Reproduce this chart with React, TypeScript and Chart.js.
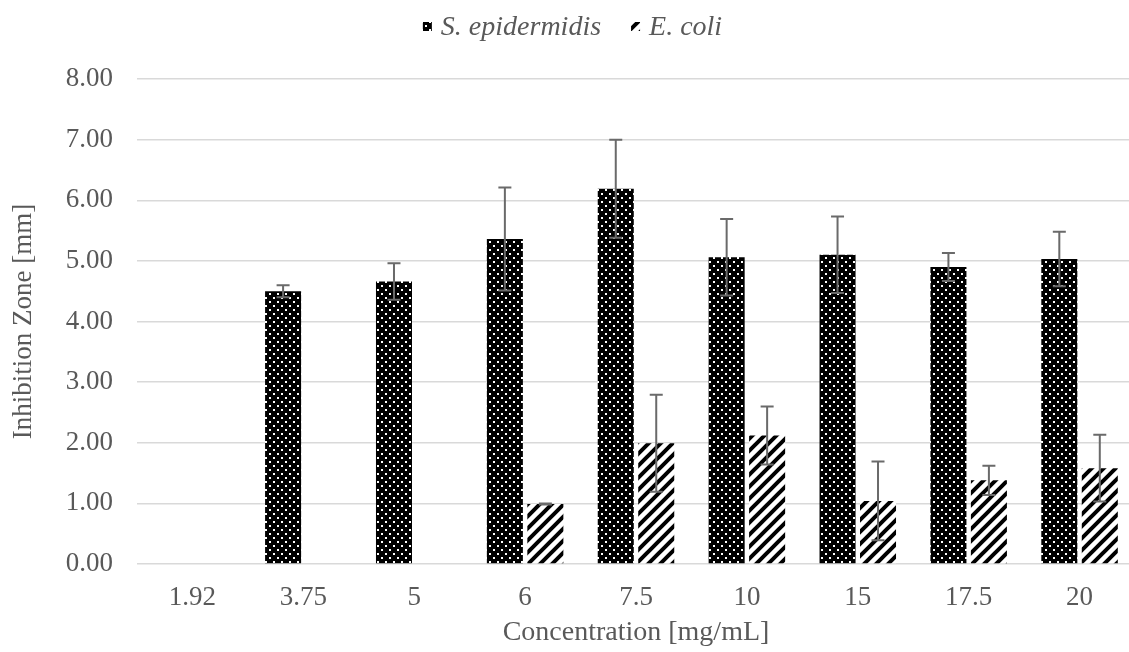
import React, { useEffect, useRef } from "react";
import { Chart, registerables } from "chart.js";

Chart.register(...registerables);

const categories = ["1.92", "3.75", "5", "6", "7.5", "10", "15", "17.5", "20"];
const sEpidermidis = [0, 4.5, 4.66, 5.36, 6.19, 5.06, 5.1, 4.9, 5.03];
const sEpidermidisErr: (number | null)[] = [null, 0.1, 0.3, 0.85, 0.81, 0.63, 0.63, 0.23, 0.45];
const eColi = [0, 0, 0, 0.99, 1.99, 2.12, 1.04, 1.38, 1.58];
const eColiErr: (number | null)[] = [null, null, null, 0.01, 0.8, 0.48, 0.65, 0.24, 0.55];
const seriesLabels = ["S. epidermidis", "E. coli"];
const yMin = 0;
const yMax = 8;
const yStep = 1;
const xTitle = "Concentration [mg/mL]";
const yTitle = "Inhibition Zone [mm]";

const TEXT = "#595959";
const FONT = '"Liberation Serif", "Times New Roman", serif';

function dotPattern(): CanvasPattern | string {
  const c = document.createElement("canvas");
  c.width = 8;
  c.height = 8;
  const g = c.getContext("2d");
  if (!g) return "#000";
  g.fillStyle = "#000";
  g.fillRect(0, 0, 8, 8);
  g.fillStyle = "#fff";
  g.fillRect(1, 1, 2, 2);
  g.fillRect(5, 5, 2, 2);
  const main = document.createElement("canvas").getContext("2d");
  return (main && main.createPattern(c, "repeat")) || "#000";
}

function stripePattern(): CanvasPattern | string {
  const c = document.createElement("canvas");
  c.width = 12;
  c.height = 12;
  const g = c.getContext("2d");
  if (!g) return "#000";
  g.fillStyle = "#fff";
  g.fillRect(0, 0, 12, 12);
  g.strokeStyle = "#000";
  g.lineWidth = 4;
  g.beginPath();
  g.moveTo(-3, 15);
  g.lineTo(15, -3);
  g.moveTo(-3, 3);
  g.lineTo(3, -3);
  g.moveTo(9, 15);
  g.lineTo(15, 9);
  g.stroke();
  const main = document.createElement("canvas").getContext("2d");
  return (main && main.createPattern(c, "repeat")) || "#000";
}

const errorBarPlugin = {
  id: "errorBars",
  afterDatasetsDraw(chart: any) {
    const ctx = chart.ctx;
    const yScale = chart.scales.y;
    ctx.save();
    ctx.strokeStyle = "#6a6a6a";
    ctx.lineWidth = 2;
    chart.data.datasets.forEach((ds: any, i: number) => {
      const meta = chart.getDatasetMeta(i);
      const errs: (number | null)[] = ds.errors || [];
      meta.data.forEach((el: any, j: number) => {
        const e = errs[j];
        const v = ds.data[j];
        if (e === null || e === undefined || v === null || v === undefined) return;
        const x = el.x;
        const yt = yScale.getPixelForValue(v + e);
        const yb = yScale.getPixelForValue(v - e);
        const half = 6.5;
        ctx.beginPath();
        ctx.moveTo(x, yt);
        ctx.lineTo(x, yb);
        ctx.moveTo(x - half, yt);
        ctx.lineTo(x + half, yt);
        ctx.moveTo(x - half, yb);
        ctx.lineTo(x + half, yb);
        ctx.stroke();
      });
    });
    ctx.restore();
  },
};

const legendPlugin = {
  id: "customLegend",
  afterDraw(chart: any) {
    const ctx = chart.ctx;
    ctx.save();
    ctx.font = "italic 28px " + FONT;
    ctx.textBaseline = "alphabetic";
    ctx.textAlign = "left";
    const box = 9;
    const gapBoxText = 9;
    const gapItems = 30;
    const items = chart.data.datasets.map((ds: any) => ({
      label: ds.label,
      fill: ds.backgroundColor,
      w: ctx.measureText(ds.label).width,
    }));
    let total = 0;
    items.forEach((it: any, k: number) => {
      total += box + gapBoxText + it.w + (k < items.length - 1 ? gapItems : 0);
    });
    let x = chart.width / 2 + 5 - total / 2;
    const baseline = 35;
    items.forEach((it: any) => {
      ctx.fillStyle = it.fill;
      ctx.fillRect(x, 22, box, box);
      x += box + gapBoxText;
      ctx.fillStyle = TEXT;
      ctx.fillText(it.label, x, baseline);
      x += it.w + gapItems;
    });
    ctx.restore();
  },
};

export default function App() {
  const ref = useRef<HTMLCanvasElement | null>(null);

  useEffect(() => {
    if (!ref.current) return;
    Chart.defaults.font.family = FONT;
    const chart = new Chart(ref.current, {
      type: "bar",
      data: {
        labels: categories,
        datasets: [
          {
            label: seriesLabels[0],
            data: sEpidermidis,
            errors: sEpidermidisErr,
            backgroundColor: dotPattern(),
            borderWidth: 0,
            categoryPercentage: 0.73,
            barPercentage: 0.89,
          } as any,
          {
            label: seriesLabels[1],
            data: eColi,
            errors: eColiErr,
            backgroundColor: stripePattern(),
            borderWidth: 0,
            categoryPercentage: 0.73,
            barPercentage: 0.89,
          } as any,
        ],
      },
      options: {
        responsive: true,
        maintainAspectRatio: false,
        animation: false,
        layout: { padding: { top: 79, left: 0, right: 0, bottom: 0 } },
        plugins: {
          legend: { display: false },
          tooltip: { enabled: false },
        },
        scales: {
          x: {
            grid: { display: false },
            border: { display: false },
            ticks: { color: TEXT, font: { size: 27 }, padding: 10 },
            title: {
              display: true,
              text: xTitle,
              color: TEXT,
              font: { size: 28 },
              padding: { top: 0, bottom: 3 },
            },
            afterFit: (s: any) => {
              s.height = 88;
            },
          },
          y: {
            min: yMin,
            max: yMax,
            ticks: {
              stepSize: yStep,
              color: TEXT,
              font: { size: 27 },
              padding: 24,
              callback: (v: any) => Number(v).toFixed(2),
            },
            grid: { color: "#d9d9d9", lineWidth: 1.5, drawTicks: false },
            border: { display: false },
            title: {
              display: true,
              text: yTitle,
              color: TEXT,
              font: { size: 27 },
              padding: { top: 8, bottom: 0 },
            },
            afterFit: (s: any) => {
              s.width = 137;
            },
          },
        },
      } as any,
      plugins: [errorBarPlugin, legendPlugin],
    });
    return () => chart.destroy();
  }, []);

  return (
    <div
      style={{
        position: "fixed",
        left: 0,
        top: 0,
        width: 1129,
        height: 652,
        overflow: "hidden",
        background: "#fff",
      }}
    >
      <div style={{ position: "relative", width: 1135, height: 652 }}>
        <canvas ref={ref} />
      </div>
    </div>
  );
}
